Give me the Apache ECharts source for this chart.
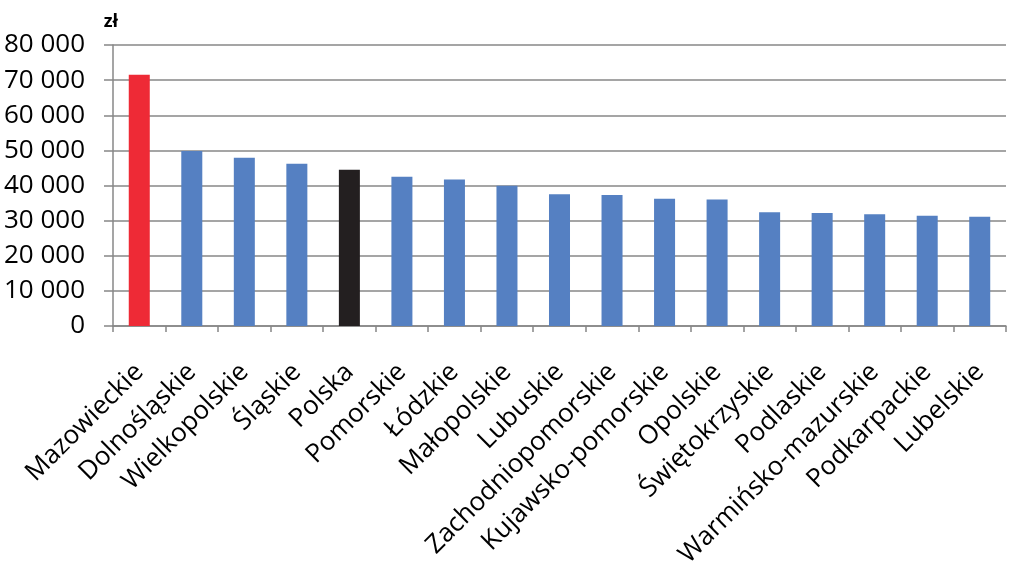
<!DOCTYPE html>
<html>
<head>
<meta charset="utf-8">
<script src="https://cdn.jsdelivr.net/npm/echarts@6/dist/echarts.min.js"></script>
<style>
  html, body { margin: 0; padding: 0; background: #fff; }
  #chart { width: 1023px; height: 572px; }
</style>
</head>
<body>
<div id="chart"></div>
<script>
const regions = [
  'Mazowieckie', 'Dolnośląskie', 'Wielkopolskie', 'Śląskie', 'Polska',
  'Pomorskie', 'Łódzkie', 'Małopolskie', 'Lubuskie', 'Zachodniopomorskie',
  'Kujawsko-pomorskie', 'Opolskie', 'Świętokrzyskie', 'Podlaskie',
  'Warmińsko-mazurskie', 'Podkarpackie', 'Lubelskie'
];
const gdpPerCapita = [
  71500, 49800, 47900, 46200, 44500,
  42500, 41700, 39900, 37500, 37300,
  36200, 36000, 32400, 32200,
  31800, 31400, 31100
];
const yTicks = [0, 10000, 20000, 30000, 40000, 50000, 60000, 70000, 80000];

const BLUE = '#5580c2';
const RED = '#ee2a36';
const BLACK = '#231f20';
const GRID = '#878787';

function barColor(name) {
  if (name === 'Mazowieckie') return RED;
  if (name === 'Polska') return BLACK;
  return BLUE;
}

const chart = echarts.init(document.getElementById('chart'));
chart.setOption({
  animation: false,
  grid: { left: 113, right: 17, top: 45, bottom: 246 },
  textStyle: { fontFamily: 'Open Sans' },
  xAxis: {
    type: 'category',
    data: regions,
    boundaryGap: true,
    axisLine: { lineStyle: { color: GRID, width: 1.5 } },
    axisTick: { show: true, length: 6, lineStyle: { color: GRID, width: 1.5 } },
    axisLabel: {
      interval: 0,
      rotate: 45,
      color: '#000',
      fontSize: 26,
      fontFamily: 'Open Sans',
      margin: 42
    }
  },
  yAxis: {
    type: 'value',
    min: yTicks[0],
    max: yTicks[yTicks.length - 1],
    interval: 10000,
    name: 'zł',
    nameLocation: 'end',
    nameGap: 14,
    nameTextStyle: { fontWeight: 'bold', fontSize: 18, color: '#000', fontFamily: 'Open Sans', align: 'right', padding: [0, -5, 0, 0] },
    axisLine: { show: true, lineStyle: { color: GRID, width: 1.5 } },
    axisTick: { show: true, length: 9, lineStyle: { color: GRID, width: 1.5 } },
    splitLine: { lineStyle: { color: GRID, width: 1.5 } },
    axisLabel: {
      color: '#000',
      fontSize: 26,
      fontFamily: 'Open Sans',
      margin: 28,
      formatter: v => String(v).replace(/\B(?=(\d{3})+(?!\d))/g, ' ')
    }
  },
  series: [{
    type: 'bar',
    data: gdpPerCapita,
    barWidth: '40%',
    itemStyle: { color: p => barColor(p.name) }
  }]
});
</script>
</body>
</html>
